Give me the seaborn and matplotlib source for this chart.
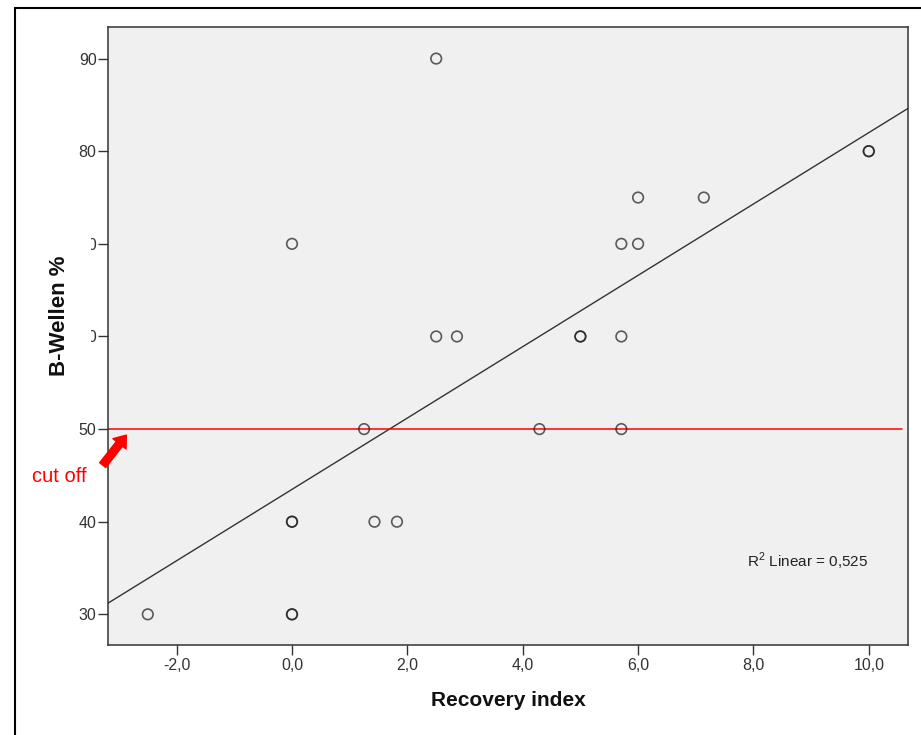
import matplotlib
matplotlib.use("Agg")
import matplotlib.pyplot as plt
from matplotlib.patches import Rectangle
import numpy as np
import pandas as pd
import seaborn as sns

# data (overlapping circles = repeated values)
recovery_index = [2.5, 0.0, 10.0, 10.0, 6.0, 7.14, 5.71, 6.0, 2.5, 2.86, 5.0, 5.0,
                  5.71, 1.25, 4.29, 5.71, 0.0, 0.0, 1.43, 1.82, -2.5, 0.0, 0.0]
b_wellen = [90, 70, 80, 80, 75, 75, 70, 70, 60, 60, 60, 60,
            60, 50, 50, 50, 40, 40, 40, 40, 30, 30, 30]

x_ticks = [-2, 0, 2, 4, 6, 8, 10]
y_ticks = [30, 40, 50, 60, 70, 80, 90]
cutoff = 50

sns.set_style("ticks")
plt.rcParams["font.family"] = ["Liberation Sans", "DejaVu Sans"]
plt.rcParams["mathtext.fontset"] = "custom"
plt.rcParams["mathtext.rm"] = "Liberation Sans"

df = pd.DataFrame({"Recovery index": recovery_index, "B-Wellen %": b_wellen})
r2 = np.corrcoef(df["Recovery index"], df["B-Wellen %"])[0, 1] ** 2
r2_txt = f"{r2:.3f}".replace(".", ",")

fig = plt.figure(figsize=(9.21, 7.35), dpi=100)
ax = fig.add_axes([108 / 921, 1 - 645 / 735, 800 / 921, 618 / 735])
ax.set_facecolor("#f0f0f0")
ax.set_xlim(-3.19, 10.68)
ax.set_ylim(26.69, 93.41)

sns.regplot(data=df, x="Recovery index", y="B-Wellen %", ax=ax, ci=None, truncate=False,
            scatter_kws=dict(s=58, facecolors="none", edgecolors="#1a1a1a",
                             linewidths=1.2, alpha=0.7, zorder=3),
            line_kws=dict(color="#333333", lw=1.0, zorder=2))

ax.axhline(cutoff, xmax=0.993, color="red", lw=1.1, zorder=2.5)

ax.set_xticks(x_ticks, [f"{t:.1f}".replace(".", ",") for t in x_ticks])
ax.set_yticks(y_ticks, [str(t) for t in y_ticks])
ax.tick_params(direction="out", length=7.2, width=1.0, color="#333333",
               labelcolor="#333333", labelsize=11.5, bottom=True, left=True)
ax.tick_params(axis="y", pad=1)
ax.tick_params(axis="x", pad=2)
for sp in ax.spines.values():
    sp.set_color("#333333")
    sp.set_linewidth(1.1)
ax.set_xlabel("")
ax.set_ylabel("")

ax.text(7.88, 35.75, f"R$^{{2}}$ Linear = {r2_txt}", fontsize=11, color="#222222",
        ha="left", va="center")

# cut off note with arrow
ax.text(-4.03, 44.93, "cut off", color="red", fontsize=14.5, ha="center", va="center",
        clip_on=False)
ax.annotate("", xy=(-2.872, 49.35), xytext=(-17, -21.6), textcoords="offset points",
            arrowprops=dict(arrowstyle="simple,head_length=0.4,head_width=0.6,tail_width=0.28",
                            color="red", mutation_scale=20, shrinkA=0, shrinkB=0),
            annotation_clip=False, zorder=5)

fig.text(508 / 921, 1 - 700 / 735, "Recovery index", ha="center", va="center",
         fontsize=15, fontweight="bold", color="#111111")
fig.text(59.5 / 921, 1 - 316 / 735, "B-Wellen %", rotation=90, ha="center", va="center",
         fontsize=16, fontweight="bold", color="#111111",
         bbox=dict(facecolor="white", edgecolor="none", boxstyle="square,pad=0.95"))

# outer frame (cut at right and bottom in the original)
fig.add_artist(Rectangle((14.5 / 921, -0.5), 2, 0.5 + (1 - 7.5 / 735),
                         transform=fig.transFigure, fill=False, edgecolor="black",
                         lw=1.5, clip_on=False))

fig.savefig("out.png", dpi=100)
